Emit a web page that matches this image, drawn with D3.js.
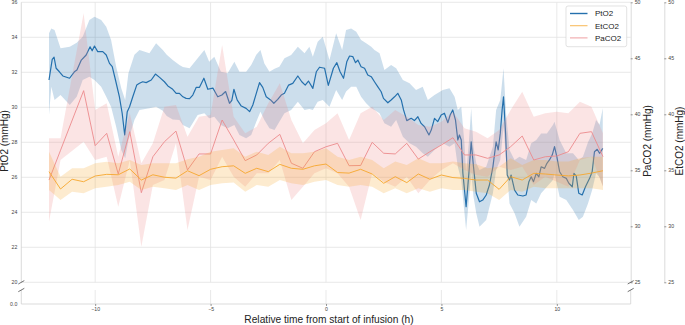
<!DOCTYPE html>
<html>
<head>
<meta charset="utf-8">
<script src="https://cdn.jsdelivr.net/npm/d3@7"></script>
<style>
  body { margin: 0; background: #fff; }
  svg { display: block; font-family: "Liberation Sans", Arial, sans-serif; }
  .tick text { fill: #444; }
</style>
</head>
<body>
<svg id="chart" width="685" height="325"></svg>
<script>
// PtO2 mean (mmHg)
const ptTime = [-12.0,-11.86,-11.78,-11.69,-11.55,-11.4,-11.11,-10.9,-10.79,-10.6,-10.39,-10.22,-10.13,-10.03,-9.89,-9.67,-9.52,-9.38,-9.26,-9.12,-8.95,-8.83,-8.72,-8.61,-8.51,-8.37,-8.2,-8.08,-7.94,-7.79,-7.57,-7.39,-7.21,-7.0,-6.85,-6.64,-6.49,-6.35,-6.2,-6.06,-5.91,-5.77,-5.62,-5.48,-5.29,-5.12,-4.9,-4.69,-4.51,-4.35,-4.18,-4.08,-3.99,-3.85,-3.67,-3.46,-3.31,-3.17,-3.02,-2.88,-2.74,-2.59,-2.4,-2.26,-2.09,-1.94,-1.8,-1.62,-1.44,-1.22,-1.05,-0.9,-0.76,-0.57,-0.42,-0.28,-0.06,0.1,0.32,0.47,0.61,0.76,0.9,1.02,1.16,1.28,1.38,1.52,1.67,1.81,1.96,2.1,2.24,2.39,2.49,2.68,2.82,2.97,3.11,3.26,3.36,3.5,3.69,3.83,3.98,4.12,4.27,4.46,4.56,4.7,4.84,4.99,5.13,5.28,5.38,5.49,5.61,5.71,5.78,5.86,5.93,6.07,6.19,6.29,6.39,6.51,6.65,6.79,6.94,7.08,7.23,7.37,7.46,7.55,7.63,7.69,7.78,7.85,7.95,8.02,8.17,8.31,8.53,8.67,8.79,8.89,8.99,9.11,9.22,9.32,9.47,9.57,9.68,9.8,9.9,10.0,10.12,10.26,10.41,10.52,10.67,10.74,10.84,10.95,11.1,11.24,11.42,11.53,11.63,11.75,11.85,11.99];
const ptMean = [31.56,32.74,32.86,32.23,32.03,31.79,31.66,32.03,32.13,32.7,32.99,33.46,33.23,33.5,33.18,33.18,32.99,32.51,32.32,31.56,30.6,29.66,28.42,29.75,30.03,30.6,31.27,31.37,31.46,31.41,31.56,31.9,31.71,31.46,31.22,31.03,30.8,30.8,30.6,30.51,30.5,30.7,31.14,31.14,31.66,31.03,31.1,30.6,30.7,30.9,30.23,30.4,31.03,30.42,30.07,29.94,29.75,30.13,30.8,31.41,31.14,30.6,30.42,30.23,30.45,30.7,30.8,31.27,31.37,31.79,31.46,31.27,31.5,31.08,32.03,32.29,32.23,31.25,32.23,32.55,32.03,31.66,32.6,32.93,32.9,32.55,32.7,32.32,32.23,31.85,31.75,31.46,31.18,30.89,30.51,30.26,30.42,30.6,30.8,30.42,29.85,29.24,29.37,29.24,29.46,29.08,28.89,28.42,28.7,29.37,29.18,29.56,29.66,29.12,29.56,29.85,29.27,28.13,28.42,28.13,26.23,24.32,26.23,28.03,26.6,25.09,24.6,24.7,24.99,25.56,26.6,28.03,27.56,28.51,29.85,30.6,28.51,26.13,25.85,26.13,25.27,24.99,24.93,24.99,25.75,26.03,25.75,26.23,26.03,26.6,26.51,26.8,26.99,27.27,27.75,27.18,26.32,26.03,25.94,25.66,25.46,26.23,26.08,25.09,24.99,25.46,25.94,26.32,27.46,27.6,27.37,27.65];

// PtO2 confidence band
const ptBandTime = [-12.0,-11.9,-11.76,-11.5,-11.1,-10.8,-10.54,-10.25,-10.03,-9.74,-9.52,-9.31,-9.09,-8.87,-8.7,-8.56,-8.3,-8.08,-7.65,-7.36,-7.07,-6.9,-6.64,-6.35,-6.2,-5.91,-5.56,-5.27,-5.06,-4.84,-4.55,-4.26,-3.97,-3.75,-3.46,-3.24,-3.02,-2.84,-2.67,-2.45,-2.23,-2.02,-1.8,-1.51,-1.22,-0.93,-0.72,-0.57,-0.36,-0.14,0.15,0.44,0.7,0.87,1.09,1.31,1.52,1.74,1.96,2.1,2.32,2.53,2.82,3.04,3.33,3.62,3.9,4.19,4.41,4.7,5.06,5.35,5.57,5.71,5.86,6.0,6.07,6.19,6.29,6.39,6.51,6.65,6.94,7.23,7.37,7.55,7.69,7.8,7.95,8.17,8.38,8.67,8.89,9.11,9.32,9.57,9.83,9.9,10.12,10.41,10.7,10.95,11.13,11.35,11.53,11.7,11.85,11.99];
const ptLow = [29.56,31.18,30.42,30.7,30.13,30.61,31.56,31.75,31.56,31.18,30.61,30.03,28.89,27.56,27.09,28.13,29.27,29.85,29.94,30.03,29.8,29.5,29.3,29.27,28.99,28.8,29.56,29.66,29.37,29.46,28.99,28.8,28.99,28.42,28.23,28.42,29.18,29.75,29.27,28.8,28.7,29.18,29.66,29.85,30.32,29.85,29.9,29.85,30.32,30.42,30.03,30.99,30.42,30.9,31.18,31.18,30.61,30.23,29.94,29.85,29.66,29.09,28.89,29.27,28.32,27.94,27.75,27.37,27.18,27.56,27.94,27.75,27.94,26.61,25.85,23.94,22.99,24.7,26.23,24.89,23.94,23.18,23.56,25.09,26.42,26.99,28.89,26.99,24.51,23.94,23.18,23.75,24.7,24.51,25.09,25.46,25.85,26.23,24.89,24.7,24.13,23.56,23.75,24.51,25.27,26.23,26.0,25.5];
const ptHigh = [34.23,34.51,34.42,33.37,33.46,33.69,34.03,34.99,35.18,34.99,34.61,33.85,32.32,31.09,30.42,31.94,33.0,33.27,33.09,33.66,33.27,33.0,32.7,32.42,32.3,32.23,32.8,33.27,32.61,32.89,32.03,31.94,32.61,32.03,32.03,32.42,33.0,33.27,32.51,32.03,32.2,32.32,32.8,32.99,33.46,33.09,33.46,32.89,33.75,34.03,32.7,34.23,33.27,34.42,34.51,34.32,33.85,33.66,33.46,33.27,33.09,32.13,32.42,32.23,31.56,31.37,30.99,31.18,30.42,30.7,30.99,31.09,30.61,29.85,30.03,27.9,26.23,28.0,29.94,27.75,26.8,26.42,26.61,27.75,29.85,30.42,32.23,29.66,27.56,26.99,27.18,26.99,27.94,28.13,28.51,28.51,28.99,29.18,28.13,27.37,27.37,26.99,27.18,28.0,28.51,29.27,29.0,29.94];

// PaCO2 (mmHg)
const pcTime = [-12,-11.5,-10.5,-10,-9.5,-9,-8.5,-8,-7.5,-7,-6.5,-6,-5.5,-5,-4.5,-4,-3.5,-3,-2.5,-2,-1.5,-1,-0.5,0,0.5,1,1.5,2,2.5,3,3.5,4,4.5,5,5.5,6,6.5,7,7.5,8,8.5,9,9.5,10,10.5,11,11.5,12];
const pcMean = [34.13,36.79,42.11,37.2,38.3,34.67,38.45,33.0,36.21,37.55,38.5,35.03,36.46,36.46,39.49,37.71,35.86,36.37,37.41,38.21,35.63,35.18,36.66,37.1,37.41,35.41,35.43,37.5,36.52,36.46,37.41,36.0,36.66,37.26,37.91,36.37,36.37,36.07,36.37,37.11,38.06,35.92,36.21,36.28,36.66,38.3,38.45,36.21];
const pcLow = [30.41,35.92,37.55,35.92,36.21,31.75,35.92,28.18,33.69,34.13,37.41,29.67,34.43,34.13,36.21,34.43,33.54,34.73,34.73,35.92,32.35,33.54,34.73,35.18,34.73,33.54,30.56,34.73,33.98,33.54,34.43,32.95,34.13,35.03,35.63,35.03,34.58,34.43,35.32,35.03,35.32,33.69,34.43,33.98,33.54,35.92,36.21,33.54];
const pcHigh = [37.86,37.86,49.02,40.38,40.98,36.21,40.09,35.63,37.41,40.68,40.83,38.0,39.79,39.94,46.19,39.79,38.3,38.89,40.98,42.77,39.49,37.41,38.6,39.2,40.09,37.71,40.09,40.68,39.49,40.38,39.79,39.04,38.89,39.34,40.23,38.75,38.45,37.86,38.6,40.38,42.02,39.79,40.09,40.23,40.09,41.13,40.68,38.3];

// EtCO2 (mmHg)
const etTime = [-12,-11.5,-11,-10.5,-10,-9.5,-9,-8.5,-8,-7.5,-7,-6.5,-6,-5.5,-5,-4.5,-4,-3.5,-3,-2.5,-2,-1.5,-1,-0.5,0,0.5,1,1.5,2,2.5,3,3.5,4,4.5,5,5.5,6,6.5,7,7.5,8,8.5,9,9.5,10,10.5,11,11.5,12];
const etMean = [34.88,33.33,34.2,33.98,34.49,34.64,34.6,35.12,34.13,34.6,34.38,34.3,34.96,34.52,35.09,35.32,35.4,34.73,35.18,34.88,35.53,35.18,35.09,35.4,35.56,34.8,34.75,35.09,34.67,33.84,34.43,33.9,34.67,34.2,34.58,34.35,34.28,34.13,34.13,33.3,34.43,34.13,34.73,34.67,34.58,34.5,34.58,34.75,34.96];
const etLow = [33.24,32.35,33.09,32.95,33.39,33.54,33.69,33.98,33.24,33.54,33.39,33.24,33.69,33.24,33.69,33.84,33.9,33.09,33.69,33.54,34.13,33.84,33.69,33.98,34.13,33.69,33.54,33.69,33.54,32.95,33.39,32.95,33.39,33.09,33.39,33.24,33.24,33.09,32.95,32.35,33.24,33.09,33.54,33.39,33.39,33.39,33.39,33.39,33.24];
const etHigh = [36.66,34.43,35.18,35.18,35.63,35.77,35.63,35.92,35.47,35.63,35.63,35.63,35.98,36.21,36.66,36.81,36.96,36.21,36.66,36.37,37.11,36.52,36.52,36.66,36.96,36.21,35.92,36.21,35.92,35.18,35.78,35.47,36.07,35.63,35.63,35.78,35.63,35.55,35.18,35.32,36.07,35.47,35.92,35.92,35.78,35.78,36.07,36.21,36.21];

// ticks
const xTicks = [-10, -5, 0, 5, 10];
const ptTicks = [20, 22, 24, 26, 28, 30, 32, 34, 36];
const co2Ticks = [25, 30, 35, 40, 45, 50];

const series = [
  { name: "PtO2", color: "#2470ad", width: 1.2 },
  { name: "EtCO2", color: "#f6a72e", width: 0.9 },
  { name: "PaCO2", color: "#ec8a8c", width: 0.9 }
];

const svg = d3.select("#chart");
const gridColor = "#e3e3e3";
const spineColor = "#d2d2d2";

// scales
const x = d3.scaleLinear().domain([-13.2, 13.2]).range([21.3, 630.7]);
const yPt = d3.scaleLinear().domain([20, 36]).range([282.3, 2.3]);
const yCo2 = d3.scaleLinear().domain([25, 50]).range([282.3, 2.3]);
const yLow = d3.scaleLinear().domain([0, 1]).range([304, 290]);

// grid lines
const grid = svg.append("g");
grid.selectAll(".hg").data(ptTicks).enter().append("line")
  .attr("x1", x.range()[0]).attr("x2", x.range()[1])
  .attr("y1", d => yPt(d)).attr("y2", d => yPt(d))
  .attr("stroke", gridColor).attr("stroke-width", 0.8);
grid.selectAll(".vg").data(xTicks).enter().append("line")
  .attr("x1", d => x(d)).attr("x2", d => x(d))
  .attr("y1", yPt(36)).attr("y2", yPt(20))
  .attr("stroke", gridColor).attr("stroke-width", 0.8);
grid.selectAll(".vg2").data(xTicks).enter().append("line")
  .attr("x1", d => x(d)).attr("x2", d => x(d))
  .attr("y1", yLow(1)).attr("y2", yLow(0))
  .attr("stroke", gridColor).attr("stroke-width", 0.8);

// spines
const spines = svg.append("g").attr("stroke", spineColor).attr("stroke-width", 0.8);
spines.append("line").attr("x1", x.range()[0]).attr("x2", x.range()[0]).attr("y1", yPt(36)).attr("y2", yPt(20));
spines.append("line").attr("x1", x.range()[0]).attr("x2", x.range()[0]).attr("y1", yLow(1)).attr("y2", yLow(0));
spines.append("line").attr("x1", x.range()[1]).attr("x2", x.range()[1]).attr("y1", yLow(1)).attr("y2", yLow(0));
spines.append("line").attr("x1", x.range()[0]).attr("x2", x.range()[1]).attr("y1", yLow(0)).attr("y2", yLow(0));

// bands + lines
function drawSeries(times, mean, low, high, bandTimes, yScale, s) {
  const g = svg.append("g");
  const area = d3.area()
    .x((d, i) => x(bandTimes[i]))
    .y0((d, i) => yScale(low[i]))
    .y1((d, i) => yScale(high[i]));
  g.append("path").datum(low).attr("d", area)
    .attr("fill", s.color).attr("fill-opacity", 0.23).attr("stroke", "none");
  const line = d3.line().x((d, i) => x(times[i])).y(d => yScale(d));
  g.append("path").datum(mean).attr("d", line)
    .attr("fill", "none").attr("stroke", s.color).attr("stroke-width", s.width)
    .attr("stroke-linejoin", "round");
}
drawSeries(ptTime, ptMean, ptLow, ptHigh, ptBandTime, yPt, series[0]);
drawSeries(pcTime, pcMean, pcLow, pcHigh, pcTime, yCo2, series[2]);
drawSeries(etTime, etMean, etLow, etHigh, etTime, yCo2, series[1]);

// axes
function styleAxis(g) {
  g.selectAll(".tick line").attr("stroke", "#555").attr("stroke-width", 0.6);
  g.selectAll(".tick text").attr("font-size", 5.2);
}
svg.append("g").attr("transform", `translate(0,${yLow(0)})`)
  .call(d3.axisBottom(x).tickValues(xTicks).tickSize(2).tickPadding(1.2).tickSizeOuter(0))
  .call(g => g.select(".domain").remove())
  .call(styleAxis);

svg.append("g").attr("transform", `translate(${x.range()[0]},0)`)
  .call(d3.axisLeft(yPt).tickValues(ptTicks).tickSize(0).tickPadding(4).tickFormat(d3.format("d")))
  .call(g => g.select(".domain").remove())
  .call(styleAxis);
svg.append("g").attr("transform", `translate(${x.range()[0]},0)`)
  .call(d3.axisLeft(yLow).tickValues([0]).tickSize(0).tickPadding(4))
  .call(g => g.select(".domain").remove())
  .call(styleAxis);

[x.range()[1], 664.3].forEach(px => {
  svg.append("g").attr("transform", `translate(${px},0)`)
    .call(d3.axisRight(yCo2).tickValues(co2Ticks).tickSize(2).tickPadding(2).tickSizeOuter(0))
    .call(g => g.select(".domain").attr("stroke", spineColor).attr("stroke-width", 0.8))
    .call(styleAxis);
});

// broken-axis marks
const brk = svg.append("g").attr("stroke", "#333").attr("stroke-width", 0.7);
[x.range()[0], x.range()[1]].forEach(px => {
  [yPt(20), yLow(1)].forEach(py => {
    brk.append("line").attr("x1", px - 3).attr("x2", px + 3)
      .attr("y1", py + 1.7).attr("y2", py - 1.7);
  });
});

// axis labels
svg.append("text").attr("x", 329).attr("y", 322.5).attr("text-anchor", "middle")
  .attr("font-size", 10.2).attr("fill", "#222").text("Relative time from start of infusion (h)");
svg.append("text").attr("transform", "translate(8,141) rotate(-90)").attr("text-anchor", "middle")
  .attr("font-size", 10).attr("fill", "#222").text("PtO2 (mmHg)");
svg.append("text").attr("transform", "translate(650.5,141) rotate(-90)").attr("text-anchor", "middle")
  .attr("font-size", 10).attr("fill", "#222").text("PaCO2 (mmHg)");
svg.append("text").attr("transform", "translate(682.5,141) rotate(-90)").attr("text-anchor", "middle")
  .attr("font-size", 10).attr("fill", "#222").text("EtCO2 (mmHg)");

// legend
const legend = svg.append("g").attr("transform", "translate(566,6)");
legend.append("rect").attr("width", 60.7).attr("height", 40.7).attr("rx", 2)
  .attr("fill", "#fff").attr("fill-opacity", 0.85).attr("stroke", "#d5d5d5").attr("stroke-width", 0.7);
const item = legend.selectAll(".item").data(series).enter().append("g")
  .attr("transform", (d, i) => `translate(0,${7.5 + i * 12.2})`);
item.append("line").attr("x1", 4).attr("x2", 21.5)
  .attr("stroke", d => d.color).attr("stroke-width", d => d.width + 0.2)
  .attr("stroke-opacity", (d, i) => i === 0 ? 1 : 0.75);
item.append("text").attr("x", 29).attr("dy", "0.35em").attr("font-size", 8).attr("fill", "#222")
  .text(d => d.name);
</script>
</body>
</html>
